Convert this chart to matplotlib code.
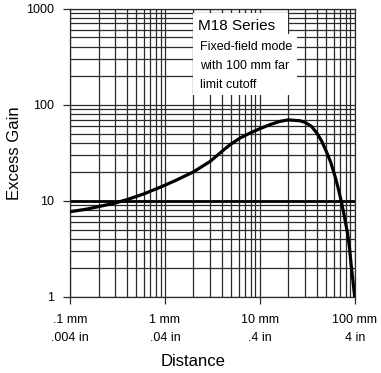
import matplotlib
matplotlib.use("Agg")
import matplotlib.pyplot as plt
from matplotlib.patches import Rectangle
from matplotlib.ticker import FixedLocator, LogLocator, NullFormatter

# curve (distance in mm, excess gain)
distance_mm = [0.1, 0.15, 0.2, 0.3, 0.4, 0.6, 0.9, 1.3, 2.0, 3.0, 3.8, 4.85,
               6.2, 7.9, 10, 12.8, 16.3, 20, 26.5, 30, 35, 40, 45, 50, 56, 62,
               67, 72, 78, 84, 88, 92, 96, 100]
excess_gain = [7.7, 8.2, 8.7, 9.5, 10.3, 11.8, 13.9, 16.3, 20, 25.7, 31.4, 38.3,
               45, 50.7, 56.2, 62, 67, 69.5, 68, 65.5, 59.5, 50.5, 41.5, 33, 25,
               18, 13.5, 10, 6.8, 4.6, 3.3, 2.1, 1.45, 1.0]

x_ticks = [0.1, 1, 10, 100]
x_tick_labels = [".1 mm\n.004 in", "1 mm\n.04 in", "10 mm\n.4 in", "100 mm\n4 in"]
y_ticks = [1, 10, 100, 1000]
y_tick_labels = ["1", "10", "100", "1000"]

title = "M18 Series"
note_lines = ["Fixed-field mode", "with 100 mm far", "limit cutoff"]

plt.rcParams["font.family"] = ["Liberation Sans", "DejaVu Sans"]
grid_color = "#2a2a2a"

fig = plt.figure(figsize=(3.81, 3.73), dpi=100)
ax = fig.add_axes([0.1837, 0.2038, 0.7473, 0.7734])
ax.set_xscale("log")
ax.set_yscale("log")
ax.set_xlim(0.1, 100)
ax.set_ylim(1, 1000)

ax.xaxis.set_major_locator(FixedLocator(x_ticks))
ax.yaxis.set_major_locator(FixedLocator(y_ticks))
ax.xaxis.set_minor_locator(LogLocator(base=10, subs=range(2, 10)))
ax.yaxis.set_minor_locator(LogLocator(base=10, subs=range(2, 10)))
ax.xaxis.set_minor_formatter(NullFormatter())
ax.yaxis.set_minor_formatter(NullFormatter())
ax.set_xticklabels(x_tick_labels, fontsize=9, linespacing=1.65)
ax.set_yticklabels(y_tick_labels, fontsize=9)

ax.tick_params(which="major", length=5.3, width=0.9, color=grid_color, pad=6)
ax.tick_params(axis="x", which="major", pad=7)
ax.tick_params(which="minor", length=0)
ax.grid(which="both", color=grid_color, linewidth=0.9)
for s in ax.spines.values():
    s.set_color(grid_color)
    s.set_linewidth(0.9)

ax.axhline(10, color="black", linewidth=2.0, zorder=2)
ax.plot(distance_mm, excess_gain, color="black", linewidth=2.3, zorder=3,
        solid_capstyle="butt", solid_joinstyle="round")

# white boxes behind the caption
ax.add_patch(Rectangle((0.432, 0.908), 0.334, 0.076, transform=ax.transAxes,
                       facecolor="white", edgecolor="none", zorder=4))
ax.add_patch(Rectangle((0.432, 0.700), 0.365, 0.210, transform=ax.transAxes,
                       facecolor="white", edgecolor="none", zorder=4))
ax.text(0.450, 0.939, title, transform=ax.transAxes, fontsize=11,
        ha="left", va="center", zorder=5)
for i, line in enumerate(note_lines):
    ax.text(0.457, 0.868 - i * 0.066, line, transform=ax.transAxes, fontsize=9,
            ha="left", va="center", zorder=5)

ax.set_ylabel("Excess Gain", fontsize=12)
ax.yaxis.set_label_coords(-0.169, 0.5)
ax.text(0.432, -0.239, "Distance", transform=ax.transAxes, fontsize=12,
        ha="center", va="baseline")

fig.savefig("out.png", dpi=100)
